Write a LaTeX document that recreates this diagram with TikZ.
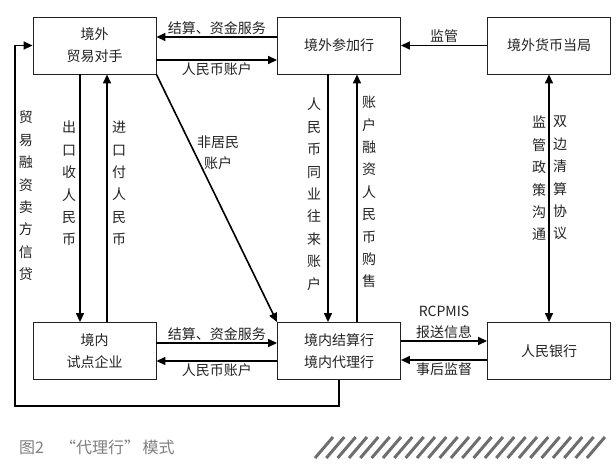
\documentclass[tikz,border=0pt]{standalone}
\usepackage{fontspec}
\setmainfont{Noto Sans CJK SC}
\usepackage{tikz}
\usetikzlibrary{positioning,arrows.meta}
\definecolor{ink1}{HTML}{222222}
\definecolor{gray1}{HTML}{7F7F7F}
\definecolor{hatch1}{HTML}{6E6E6E}

\begin{document}
\begin{tikzpicture}[
    x=1pt, y=-1pt,
    box/.style={draw=ink1, line width=0.9pt, minimum width=123pt,
                minimum height=57pt, align=center, text=ink1,
                font=\fontsize{14}{22}\selectfont},
    arr/.style={line width=1.6pt, -{Triangle[length=9pt,width=8pt]}},
    dbl/.style={line width=1.6pt,
                {Triangle[length=9pt,width=8pt]}-{Triangle[length=9pt,width=8pt]}},
    lab/.style={text=ink1, font=\fontsize{14}{21}\selectfont,
                align=center, inner sep=2pt},
    vlab/.style={lab, font=\fontsize{14}{22.4}\selectfont,
                 anchor=north, inner sep=0pt},
    hatch/.style={draw=hatch1, line width=3pt},
]
\useasboundingbox (0,0) rectangle (616,467);

% boxes
\node[box] (abroad) at (94.5,45.5) {境外\\贸易对手};
\node[box] (partbank) at (339,45.5) {境外参加行};
\node[box] (authority) at (549,45.5) {境外货币当局};
\node[box] (pilot) at (94.5,351) {境内\\试点企业};
\node[box] (agent) at (339,351) {境内结算行\\境内代理行};
\node[box] (pboc) at (549,351) {人民银行};

% top row
\draw[arr] ([yshift=8.5pt]partbank.west) --
    node[lab, above] (l1) {结算、资金服务} ([yshift=8.5pt]abroad.east);
\draw[arr] ([yshift=-14.5pt]abroad.east) --
    node[lab, below] (l2) {人民币账户} ([yshift=-14.5pt]partbank.west);
\draw[arr] (authority) -- node[lab, above] (l3) {监管} (partbank);

% bottom row
\draw[arr] ([yshift=8pt]pilot.east) --
    node[lab, above] (l4) {结算、资金服务} ([yshift=8pt]agent.west);
\draw[arr] ([yshift=-10pt]agent.west) --
    node[lab, below] (l5) {人民币账户} ([yshift=-10pt]pilot.east);
\draw[arr] ([yshift=10pt]agent.east) --
    node[lab, above] (l6) {RCPMIS\\报送信息} ([yshift=10pt]pboc.west);
\draw[arr] ([yshift=-9pt]pboc.west) --
    node[lab, below] (l7) {事后监督} ([yshift=-9pt]agent.east);

% verticals
\draw[arr] ([xshift=-14.5pt]abroad.south) -- ([xshift=-14.5pt]pilot.north);
\draw[arr] ([xshift=12.5pt]pilot.north) -- ([xshift=12.5pt]abroad.south);
\draw[arr] ([xshift=-11pt]partbank.south) -- ([xshift=-11pt]agent.north);
\draw[arr] ([xshift=18pt]agent.north) -- ([xshift=18pt]partbank.south);
\draw[dbl] (authority) -- (pboc);
\draw[arr] (abroad.south east) -- (agent.north west);

% loop round the left side
\coordinate (loopbl) at (15,406);
\draw[arr] (agent.south) |- (loopbl) |- (abroad.west);

% vertical labels
\node[vlab] (v1) at (26,111) {贸\\易\\融\\资\\卖\\方\\信\\贷};
\node[vlab] (v2) at (69,121) {出\\口\\收\\人\\民\\币};
\node[vlab] (v3) at (119,121) {进\\口\\付\\人\\民\\币};
\node[vlab] (v4) at (314,98) {人\\民\\币\\同\\业\\往\\来\\账\\户};
\node[vlab] (v5) at (369,96) {账\\户\\融\\资\\人\\民\\币\\购\\售};
\node[vlab] (v6) at (539,116) {监\\管\\政\\策\\沟\\通};
\node[vlab] (v7) at (560,116) {双\\边\\清\\算\\协\\议};
\node[lab] (v8) at (218,153) {非居民\\账户};

% caption
\node[anchor=west, inner sep=0pt, text=gray1,
      font=\fontsize{16}{19}\selectfont] (cap) at (19,447) {图2\quad “代理行”\,模式};
\foreach \i in {0,...,24}
    \draw[hatch] (315+\i*11.33,458) -- ++(18,-21);
\end{tikzpicture}
\end{document}
